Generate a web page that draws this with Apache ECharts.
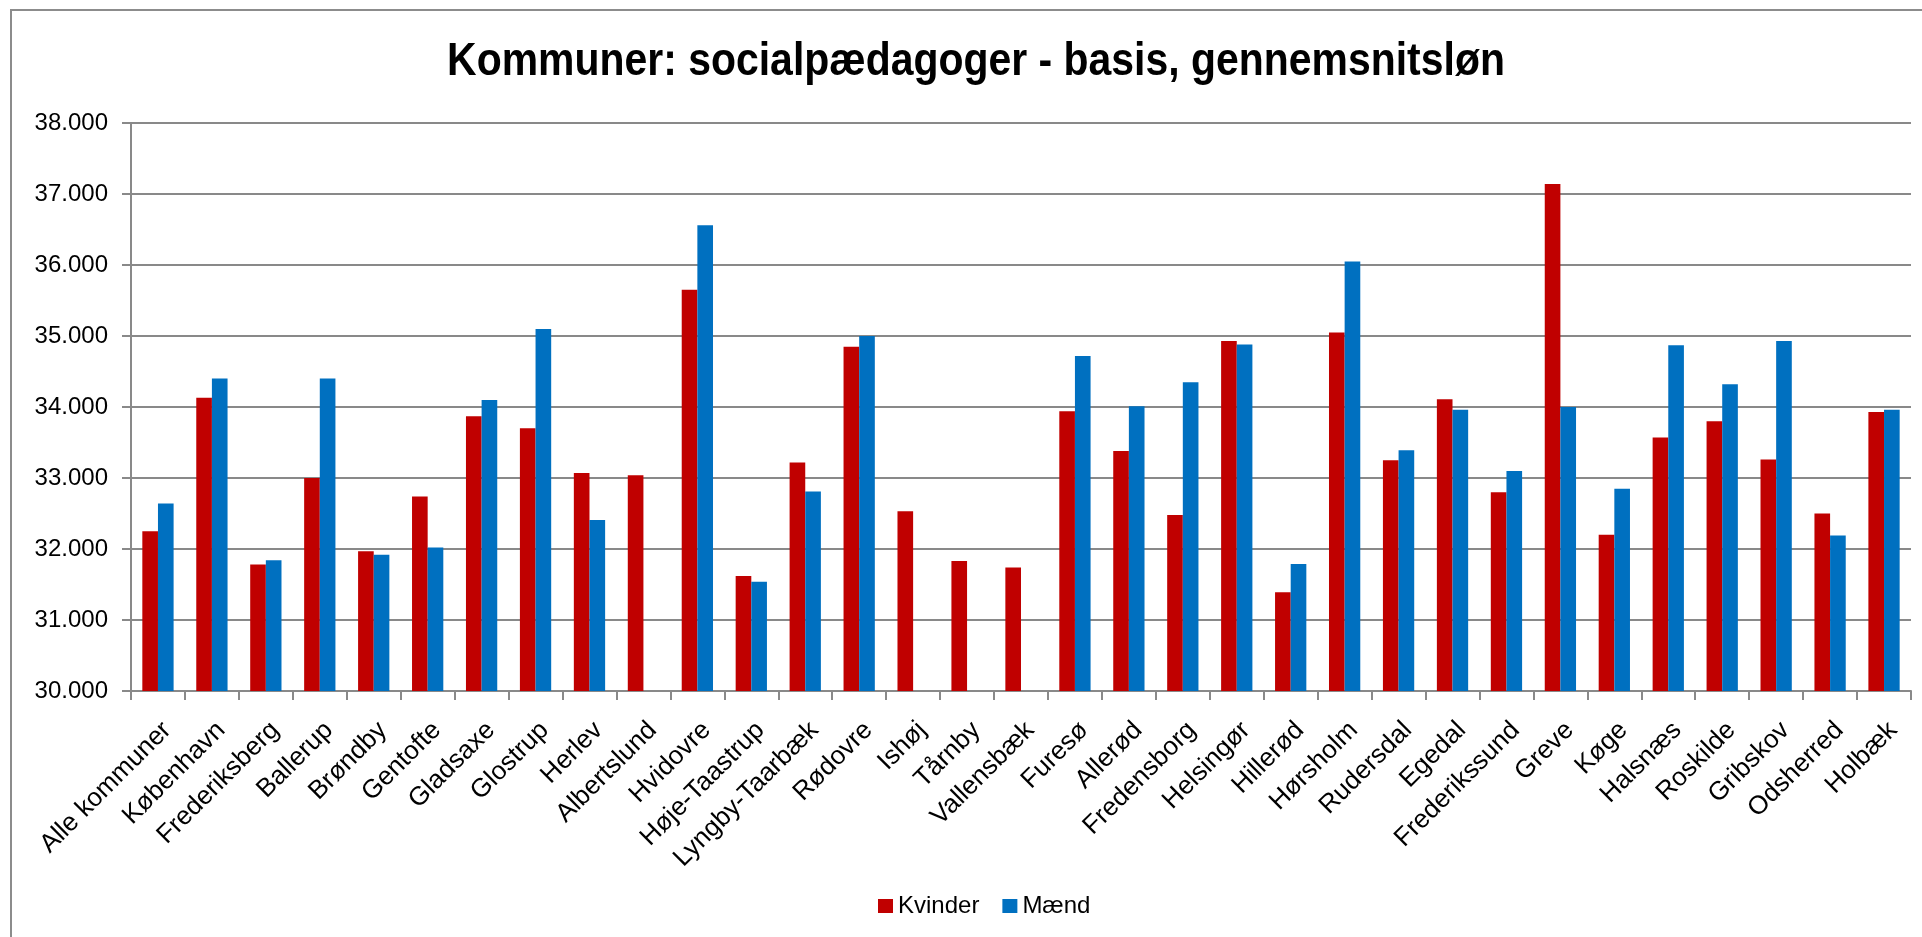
<!DOCTYPE html>
<html>
<head>
<meta charset="utf-8">
<script src="https://cdn.jsdelivr.net/npm/echarts@6/dist/echarts.min.js"></script>
<style>
html,body{margin:0;padding:0;background:#fff;}
#chart{width:1922px;height:937px;}
</style>
</head>
<body>
<div id="chart"></div>
<script>
var titel = 'Kommuner: socialpædagoger - basis, gennemsnitsløn';
var kommuner = ['Alle kommuner','København','Frederiksberg','Ballerup','Brøndby','Gentofte','Gladsaxe','Glostrup','Herlev','Albertslund',
	'Hvidovre','Høje-Taastrup','Lyngby-Taarbæk','Rødovre','Ishøj','Tårnby','Vallensbæk','Furesø','Allerød','Fredensborg',
	'Helsingør','Hillerød','Hørsholm','Rudersdal','Egedal','Frederikssund','Greve','Køge','Halsnæs','Roskilde',
	'Gribskov','Odsherred','Holbæk'];
// ingen tal for mænd i Albertslund, Ishøj, Tårnby og Vallensbæk
var kvinder = [32250,34130,31780,33000,31970,32740,33870,33700,33070,33040,
	35650,31620,33220,34850,32530,31830,31740,33940,33380,32480,
	34930,31390,35050,33250,34110,32800,37140,32200,33570,33800,
	33260,32500,33930];
var maend = [32640,34400,31840,34400,31920,32020,34100,35100,32410,null,
	36560,31540,32810,35000,null,null,null,34720,34010,34350,
	34880,31790,36050,33390,33960,33100,34000,32850,34870,34320,
	34930,32190,33960];
var yTicks = [30000,31000,32000,33000,34000,35000,36000,37000,38000];

var myChart = echarts.init(document.getElementById('chart'));
var grey = '#898989';
var option = {
	backgroundColor:'#fff',
	animation:false,
	graphic:[{
		type:'rect',
		shape:{x:11,y:10,width:1940,height:960},
		style:{fill:'none',stroke:'#8c8c8c',lineWidth:2},
		silent:true
	},{
		// titel som tekst, lidt smallere som i Excel
		type:'text',
		x:976,
		y:62,
		scaleX:0.89,
		style:{
			text:titel,
			textAlign:'center',
			textVerticalAlign:'middle',
			font:'bold 46px "Liberation Sans", Arial, sans-serif',
			fill:'#000'
		},
		silent:true
	}],
	legend:{
		data:['Kvinder','Mænd'],
		bottom:14,
		left:873,
		icon:'rect',
		itemWidth:15,
		itemHeight:14,
		itemGap:23,
		textStyle:{fontFamily:'Liberation Sans, sans-serif',fontSize:24,color:'#000'}
	},
	grid:{left:131,right:11,top:123,bottom:246},
	xAxis:{
		type:'category',
		data:kommuner,
		axisLine:{lineStyle:{color:grey,width:2}},
		axisTick:{show:true,length:9,lineStyle:{color:grey,width:2}},
		axisLabel:{
			rotate:45,
			interval:0,
			margin:26,
			align:'right',
			verticalAlign:'top',
			fontFamily:'Liberation Sans, sans-serif',
			fontSize:26,
			color:'#000'
		}
	},
	yAxis:{
		type:'value',
		min:yTicks[0],
		max:yTicks[yTicks.length-1],
		interval:1000,
		axisLine:{show:true,lineStyle:{color:grey,width:2}},
		axisTick:{show:true,length:9,lineStyle:{color:grey,width:2}},
		splitLine:{lineStyle:{color:grey,width:2}},
		axisLabel:{
			margin:23,
			fontFamily:'Liberation Sans, sans-serif',
			fontSize:24,
			color:'#000',
			formatter:function(v){return (v/1000)+'.000';}
		}
	},
	series:[{
		name:'Kvinder',
		type:'bar',
		barGap:'0%',
		barCategoryGap:'42%',
		itemStyle:{color:'#C00000'},
		data:kvinder
	},{
		name:'Mænd',
		type:'bar',
		itemStyle:{color:'#0070C0'},
		data:maend
	}]
};
myChart.setOption(option);
</script>
</body>
</html>
